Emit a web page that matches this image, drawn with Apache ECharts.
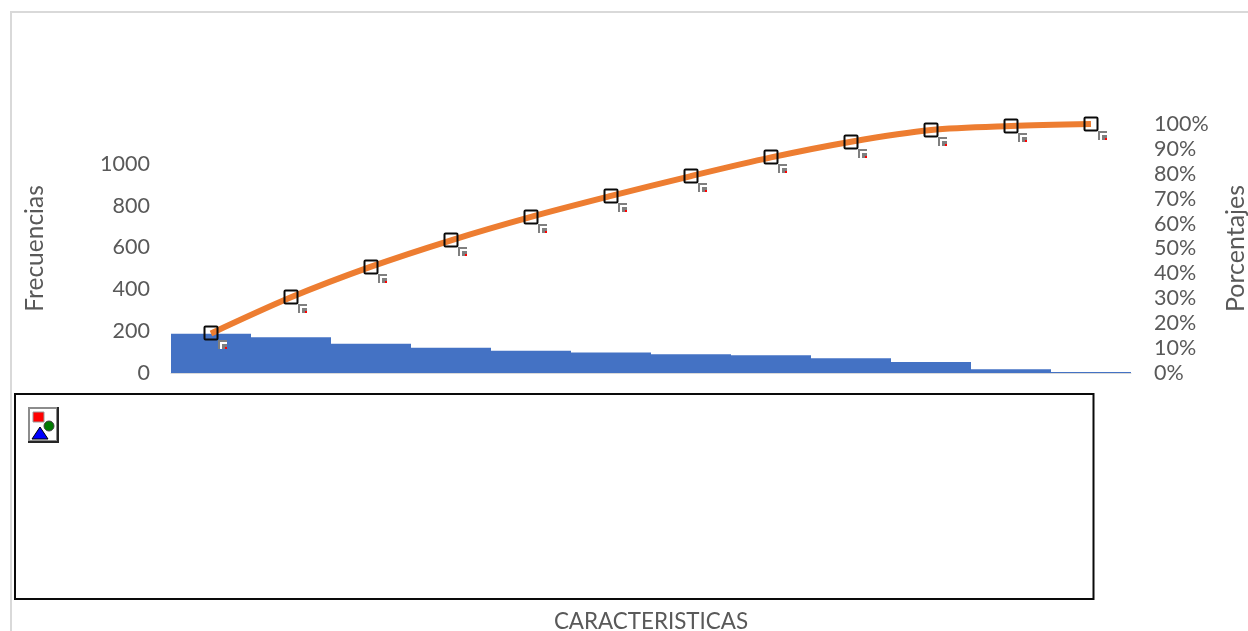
<!DOCTYPE html>
<html>
<head>
<meta charset="utf-8">
<style>html,body{margin:0;padding:0;background:#fff}#c{width:1248px;height:631px}</style>
<script src="https://cdn.jsdelivr.net/npm/echarts@6/dist/echarts.min.js"></script>
</head>
<body>
<div id="c"></div>
<script>
const categories = ['1','2','3','4','5','6','7','8','9','10','11','12'];
const frecuencias = [188,171,140,121,106,98,90,85,71,53,18,5];
const porcentajes = [15.9,30.4,42.7,53.3,62.7,71.1,79.1,86.6,92.9,97.6,99.2,100];
const percentTicks = [0,10,20,30,40,50,60,70,80,90,100];

const TXT = '#595959', FONT = 'Lato';
const chart = echarts.init(document.getElementById('c'), null, {renderer:'canvas'});

function renderMark(params, api){
  const p = api.coord([api.value(0), api.value(1)]);
  const x = Math.round(p[0]), y = Math.round(p[1]);
  const rect = (dx0,dy0,dx1,dy1,fill)=>({type:'rect',shape:{x:x+dx0,y:y+dy0,width:dx1-dx0,height:dy1-dy0},style:{fill:fill}});
  return {type:'group',children:[
    rect(7,7,16,16,'#ffffff'),
    rect(7,7,16,9,'#7f7f7f'),
    rect(7,7,9,16,'#7f7f7f'),
    rect(11,11,16,16,'#7f7f7f'),
    rect(14,14,16,16,'#ff0000'),
    {type:'rect',shape:{x:x-6.5,y:y-6.5,width:13,height:13,r:1},style:{fill:'none',stroke:'#0a0a0a',lineWidth:2}}
  ]};
}

chart.setOption({
  animation:false,
  backgroundColor:'#ffffff',
  grid:{left:171,right:117,top:124,bottom:258,containLabel:false,outerBoundsMode:'none'},
  xAxis:{
    type:'category',data:categories,
    name:'CARACTERISTICAS',nameLocation:'middle',nameGap:238,
    nameTextStyle:{color:TXT,fontFamily:FONT,fontSize:22.4},
    axisLine:{show:true,lineStyle:{color:'#d9d9d9',width:1}},
    axisTick:{show:false},axisLabel:{show:false},splitLine:{show:false}
  },
  yAxis:[{
    type:'value',min:0,max:1191,interval:200,
    name:'Frecuencias',nameLocation:'middle',nameGap:123,nameRotate:90,
    nameTextStyle:{color:TXT,fontFamily:FONT,fontSize:24.5},
    axisLine:{show:false},axisTick:{show:false},splitLine:{show:false},
    axisLabel:{color:TXT,fontFamily:FONT,fontSize:21.5,margin:21,showMaxLabel:false,padding:[2,0,0,0],formatter:v=>String(v)}
  },{
    type:'value',min:percentTicks[0],max:percentTicks[percentTicks.length-1],interval:10,
    name:'Porcentajes',nameLocation:'middle',nameGap:92,nameRotate:90,
    nameTextStyle:{color:TXT,fontFamily:FONT,fontSize:25},
    axisLine:{show:false},axisTick:{show:false},splitLine:{show:false},
    axisLabel:{color:TXT,fontFamily:FONT,fontSize:21.5,margin:23,padding:[2,0,0,0],formatter:'{value}%'}
  }],
  series:[
    {type:'bar',name:'Frecuencias',data:frecuencias,barCategoryGap:0,barGap:0,
      itemStyle:{color:'#4472c4'},z:2},
    {type:'line',name:'Porcentajes',yAxisIndex:1,data:porcentajes,smooth:0.3,showSymbol:false,
      lineStyle:{color:'#ed7d31',width:6,cap:'butt'},z:3},
    {type:'custom',name:'Marcas',yAxisIndex:1,renderItem:renderMark,
      data:porcentajes.map((v,i)=>[i,v]),encode:{x:0,y:1},z:4,silent:true}
  ],
  graphic:[
    {type:'rect',silent:true,shape:{x:10,y:11,width:1238,height:2},style:{fill:'#d9d9d9'}},
    {type:'rect',silent:true,shape:{x:10,y:11,width:2,height:620},style:{fill:'#d9d9d9'}},
    {type:'rect',silent:true,shape:{x:15,y:394,width:1078.5,height:205},style:{fill:'#ffffff',stroke:'#0a0a0a',lineWidth:2}},
    {type:'group',silent:true,children:[
      {type:'rect',shape:{x:28,y:407,width:31,height:36},style:{fill:'#262626'}},
      {type:'rect',shape:{x:28,y:407,width:29,height:34},style:{fill:'#8c8c8c'}},
      {type:'rect',shape:{x:30,y:409,width:26,height:31},style:{fill:'#ffffff'}},
      {type:'rect',shape:{x:33,y:412,width:11,height:10},style:{fill:'#ff0000',stroke:'#9a9a9a',lineWidth:1}},
      {type:'circle',shape:{cx:49,cy:426,r:5},style:{fill:'#007a00',stroke:'#404040',lineWidth:1}},
      {type:'polygon',shape:{points:[[32,439],[48,439],[40,427]]},style:{fill:'#0000ff',stroke:'#000000',lineWidth:1}}
    ]}
  ]
});
</script>
</body>
</html>
